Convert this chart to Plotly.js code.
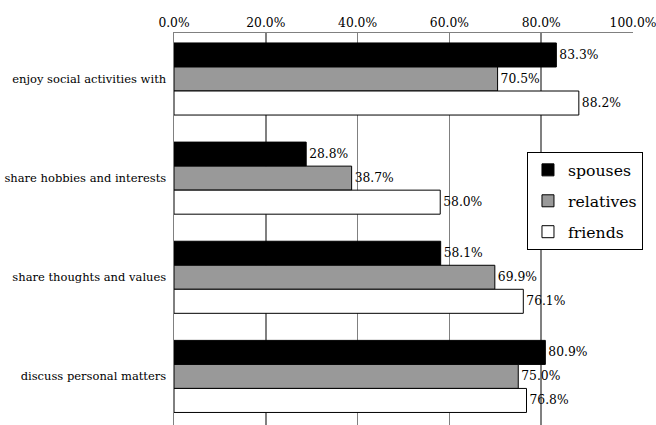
<!DOCTYPE html>
<html>
<head>
<meta charset="utf-8">
<script src="https://cdn.plot.ly/plotly-3.0.1.min.js"></script>
<style>html,body{margin:0;padding:0;background:#fff;}#chart{width:656px;height:425px;}</style>
</head>
<body>
<div id="chart"></div>
<script>
const categories = ["enjoy social activities with", "share hobbies and interests", "share thoughts and values", "discuss personal matters"];
const seriesNames = ["spouses", "relatives", "friends"];
const spouses = [83.3, 28.8, 58.1, 80.9];
const relatives = [70.5, 38.7, 69.9, 75.0];
const friends = [88.2, 58.0, 76.1, 76.8];
const tickValues = [0, 20, 40, 60, 80, 100];
const tickLabels = ["0.0%", "20.0%", "40.0%", "60.0%", "80.0%", "100.0%"];

const colors = ["#000000", "#999999", "#ffffff"];
const seriesValues = [spouses, relatives, friends];
const FONT = "DejaVu Serif";

const traces = seriesValues.map((vals, i) => ({
  type: "bar",
  orientation: "h",
  name: seriesNames[i],
  legendgroup: seriesNames[i],
  x: vals,
  y: categories,
  marker: {color: colors[i], line: {color: "#000000", width: 1}},
  text: vals.map(v => v.toFixed(1) + "%"),
  textposition: "outside",
  textfont: {family: FONT, size: 12.3, color: "#000"},
  cliponaxis: false,
  hoverinfo: "skip"
}));

const layout = {
  width: 656, height: 425,
  margin: {l: 174, r: 23, t: 33, b: 0},
  paper_bgcolor: "#fff", plot_bgcolor: "#fff",
  barmode: "group",
  bargap: 0.273,
  bargroupgap: 0,
  font: {family: FONT, size: 12.3, color: "#000"},
  xaxis: {
    side: "top",
    range: [0, 100],
    tickvals: tickValues,
    ticktext: tickLabels,
    showgrid: true,
    gridcolor: "#808080",
    gridwidth: 1.5,
    zeroline: false,
    showline: true,
    linecolor: "#808080",
    linewidth: 1.5,
    ticks: "",
    ticklabeloverflow: "allow",
    tickfont: {family: FONT, size: 12.3, color: "#000"},
    fixedrange: true
  },
  yaxis: {
    type: "category",
    range: [3.49, -0.464],
    showgrid: false,
    zeroline: false,
    showline: true,
    linecolor: "#808080",
    linewidth: 1.5,
    ticks: "",
    ticklabelstandoff: 4,
    ticklabeloverflow: "allow",
    tickfont: {family: FONT, size: 11.5, color: "#000"},
    fixedrange: true
  },
  legend: {
    x: 0.769, y: 0.696, xanchor: "left", yanchor: "top",
    bgcolor: "#fff",
    bordercolor: "#000",
    borderwidth: 1,
    font: {family: FONT, size: 15.7, color: "#000"},
    tracegroupgap: 7.5,
    traceorder: "grouped"
  },
  showlegend: true
};

Plotly.newPlot("chart", traces, layout, {staticPlot: true, displayModeBar: false});
</script>
</body>
</html>
